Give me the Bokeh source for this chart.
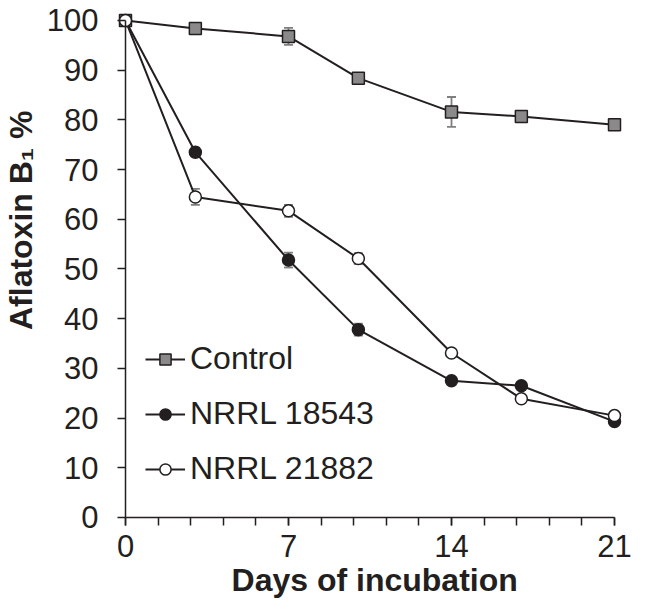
from math import pi
from bokeh.plotting import figure
from bokeh.models import (Range1d, FixedTicker, Legend, LegendItem, Whisker,
                          TeeHead, ColumnDataSource, Label)
from bokeh.embed import file_html
from bokeh.resources import INLINE

# ---- data ----
days = [0, 3, 7, 10, 14, 17, 21]
control = [100, 98.4, 96.8, 88.4, 81.6, 80.7, 79.0]
control_err = [0, 0.5, 1.7, 0.6, 3.0, 0.5, 0.5]
nrrl_18543 = [100, 73.5, 51.8, 37.8, 27.5, 26.5, 19.3]
nrrl_18543_err = [0, 0.9, 1.5, 1.2, 0.5, 0.5, 0.5]
nrrl_21882 = [100, 64.5, 61.7, 52.1, 33.1, 23.9, 20.5]
nrrl_21882_err = [0, 1.6, 1.2, 1.1, 0.5, 0.5, 0.5]
series_names = ["Control", "NRRL 18543", "NRRL 21882"]
x_major_ticks = [0, 7, 14, 21]
x_minor_ticks = [round(i * 1.4, 2) for i in range(16)]
y_ticks = list(range(0, 101, 10))
x_title = "Days of incubation"
y_title = "Aflatoxin B\u2081 %"

INK = "#231F20"
FONT = "Liberation Sans"

p = figure(width=632, height=600, output_backend="svg", toolbar_location=None,
           x_range=Range1d(-5.368, 21.773), y_range=Range1d(-16.70, 104.02),
           min_border_left=0, min_border_right=0, min_border_top=0,
           min_border_bottom=0)
p.outline_line_color = None
p.grid.visible = False
p.background_fill_color = "white"

for ax in (p.xaxis[0], p.yaxis[0]):
    ax.axis_line_color = INK
    ax.axis_line_width = 1.5
    ax.major_tick_line_color = INK
    ax.major_tick_line_width = 1.5
    ax.major_tick_out = 8
    ax.major_tick_in = 0
    ax.major_label_text_font = FONT
    ax.major_label_text_font_size = "31px"
    ax.major_label_text_color = INK

p.xaxis.ticker = FixedTicker(ticks=x_major_ticks, minor_ticks=x_minor_ticks)
p.xaxis.minor_tick_line_color = INK
p.xaxis.minor_tick_line_width = 1.5
p.xaxis.minor_tick_out = 8
p.xaxis.minor_tick_in = 0
p.xaxis.bounds = (0, 21)
p.xaxis.fixed_location = 0
p.xaxis.major_label_standoff = 10

p.yaxis.ticker = FixedTicker(ticks=y_ticks)
p.yaxis.minor_tick_line_color = None
p.yaxis.bounds = (0, 100)
p.yaxis.fixed_location = 0
p.yaxis.major_label_standoff = 19

styles = [
    dict(marker="square", fill_color="#8A8A8A"),
    dict(marker="circle", fill_color=INK),
    dict(marker="circle", fill_color="white"),
]
values = [control, nrrl_18543, nrrl_21882]
errors = [control_err, nrrl_18543_err, nrrl_21882_err]

items = []
for name, vals, errs, st in zip(series_names, values, errors, styles):
    src = ColumnDataSource(dict(
        x=days, y=vals,
        lo=[v - e for v, e in zip(vals, errs)],
        hi=[v + e for v, e in zip(vals, errs)]))
    w = Whisker(source=src, base="x", lower="lo", upper="hi",
                line_color="#7F7F7F", line_width=1.8, level="underlay",
                upper_head=TeeHead(size=9, line_color="#7F7F7F", line_width=1.8),
                lower_head=TeeHead(size=9, line_color="#7F7F7F", line_width=1.8))
    p.add_layout(w)
    lr = p.line("x", "y", source=src, line_color=INK, line_width=2)
    sr = p.scatter("x", "y", source=src, marker=st["marker"], size=12,
                   fill_color=st["fill_color"], line_color=INK, line_width=1.5)
    items.append(LegendItem(label=name, renderers=[lr, sr]))

legend = Legend(items=items, location=(145, 113), padding=0, margin=0,
                spacing=18, glyph_width=40, glyph_height=28, label_height=37,
                label_standoff=5, label_text_font=FONT,
                label_text_font_size="32px", label_text_color=INK,
                border_line_color=None, background_fill_alpha=0)
p.add_layout(legend)

p.add_layout(Label(x=10.7, y=-12.6, text=x_title, text_align="center",
                   text_baseline="alphabetic", text_font=FONT,
                   text_font_size="32px", text_font_style="bold",
                   text_color=INK))
p.add_layout(Label(x=-4.5, y=59.8, text=y_title, angle=pi / 2,
                   text_align="center", text_baseline="alphabetic",
                   text_font=FONT, text_font_size="32px",
                   text_font_style="bold", text_color=INK))

open("out.html", "w").write(file_html(p, INLINE))
